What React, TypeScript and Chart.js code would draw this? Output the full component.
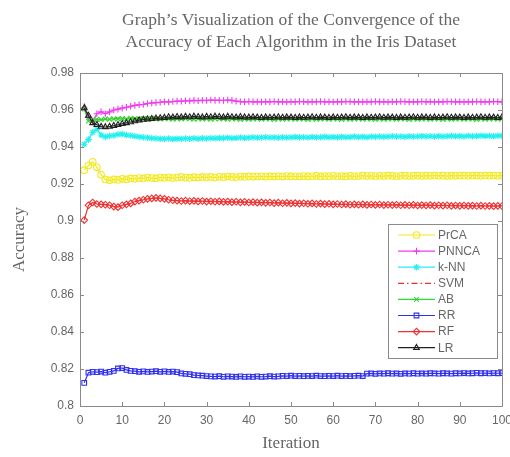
import React, { useEffect, useRef } from "react";
import { Chart, registerables } from "chart.js";
import { drawPoint } from "chart.js/helpers";

Chart.register(...registerables);

const titleLines = [
  "Graph\u2019s Visualization of the Convergence of the",
  "Accuracy of Each Algorithm in the Iris Dataset",
];
const xLabel = "Iteration";
const yLabel = "Accuracy";
const xTicks = [0, 10, 20, 30, 40, 50, 60, 70, 80, 90, 100];
const yTicks = [0.8, 0.82, 0.84, 0.86, 0.88, 0.9, 0.92, 0.94, 0.96, 0.98];
const iterations = Array.from({ length: 100 }, (_, i) => i + 1);

const seriesNames = ["PrCA", "PNNCA", "k-NN", "SVM", "AB", "RR", "RF", "LR"];

const prca = [
  0.9275, 0.93, 0.932, 0.929, 0.925, 0.9225, 0.922, 0.9225, 0.9222, 0.9228,
  0.9225, 0.923, 0.9228, 0.9232, 0.923, 0.9235, 0.9232, 0.923, 0.9235, 0.9233,
  0.9236, 0.9232, 0.9235, 0.9238, 0.9235, 0.9233, 0.9237, 0.9235, 0.9238, 0.9236,
  0.9238, 0.9235, 0.9239, 0.9237, 0.924, 0.9238, 0.9236, 0.924, 0.9238, 0.9241,
  0.9239, 0.924, 0.9242, 0.9239, 0.9241, 0.924, 0.9242, 0.924, 0.9243, 0.9241,
  0.9242, 0.924, 0.9243, 0.9241, 0.9242, 0.9244, 0.9241, 0.9243, 0.9242, 0.9244,
  0.9242, 0.9243, 0.9241, 0.9244, 0.9242, 0.9243, 0.9245, 0.9243, 0.9244, 0.9242,
  0.9244, 0.9243, 0.9245, 0.9244, 0.9242, 0.9244, 0.9245, 0.9243, 0.9244, 0.9245,
  0.9243, 0.9245, 0.9244, 0.9246, 0.9244, 0.9245, 0.9243, 0.9245, 0.9244, 0.9246,
  0.9245, 0.9244, 0.9246, 0.9245, 0.9244, 0.9246, 0.9245, 0.9246, 0.9244, 0.9245,
];

const pnnca = [
  0.961, 0.956, 0.954, 0.958, 0.959, 0.958, 0.959, 0.96, 0.9605, 0.961,
  0.9615, 0.962, 0.9625, 0.9628, 0.963, 0.9635, 0.9638, 0.964, 0.9642, 0.9645,
  0.9643, 0.9646, 0.9648, 0.9647, 0.965, 0.9649, 0.9652, 0.965, 0.9653, 0.9651,
  0.9654, 0.9652, 0.9653, 0.9651, 0.9654, 0.9652, 0.9648, 0.9645, 0.9644, 0.9646,
  0.9644, 0.9645, 0.9643, 0.9645, 0.9644, 0.9646, 0.9644, 0.9645, 0.9643, 0.9645,
  0.9644, 0.9646, 0.9645, 0.9643, 0.9645, 0.9644, 0.9646, 0.9644, 0.9645, 0.9643,
  0.9645, 0.9644, 0.9646, 0.9645, 0.9644, 0.9645, 0.9643, 0.9645, 0.9644, 0.9646,
  0.9644, 0.9645, 0.9643, 0.9645, 0.9644, 0.9646, 0.9645, 0.9644, 0.9645, 0.9644,
  0.9646, 0.9644, 0.9645, 0.9643, 0.9645, 0.9644, 0.9646, 0.9645, 0.9644, 0.9645,
  0.9643, 0.9645, 0.9644, 0.9646, 0.9644, 0.9645, 0.9644, 0.9646, 0.9645, 0.9644,
];

const knn = [
  0.9415, 0.944, 0.948, 0.9495, 0.9465, 0.9455, 0.946, 0.9462, 0.9468, 0.947,
  0.9465, 0.9462, 0.9458, 0.9455, 0.9452, 0.945, 0.9448, 0.9446, 0.9445, 0.9444,
  0.9446, 0.9443, 0.9445, 0.9444, 0.9446, 0.9445, 0.9447, 0.9445, 0.9448, 0.9446,
  0.9448, 0.9447, 0.9449, 0.9448, 0.945, 0.9448, 0.9449, 0.9451, 0.9449, 0.945,
  0.9452, 0.945, 0.9451, 0.9453, 0.9451, 0.9452, 0.945, 0.9453, 0.9451, 0.9452,
  0.9454, 0.9452, 0.9453, 0.9451, 0.9454, 0.9452, 0.9453, 0.9455, 0.9453, 0.9454,
  0.9452, 0.9455, 0.9453, 0.9454, 0.9456, 0.9454, 0.9455, 0.9453, 0.9456, 0.9455,
  0.9457, 0.9455, 0.9456, 0.9458, 0.9456, 0.9457, 0.9455, 0.9458, 0.9456, 0.9457,
  0.9459, 0.9457, 0.9458, 0.9456, 0.9459, 0.9457, 0.9458, 0.946, 0.9458, 0.9459,
  0.9457, 0.946, 0.9458, 0.9459, 0.9461, 0.9459, 0.946, 0.9458, 0.9461, 0.946,
];

const svm = [
  0.9635, 0.958, 0.955, 0.954, 0.9545, 0.955, 0.9555, 0.9552, 0.9556, 0.9558,
  0.9555, 0.9558, 0.956, 0.9557, 0.9559, 0.956, 0.9558, 0.9561, 0.9559, 0.956,
  0.9558, 0.956, 0.9557, 0.9559, 0.9561, 0.9558, 0.956, 0.9557, 0.9559, 0.956,
  0.9558, 0.9556, 0.9559, 0.9557, 0.956, 0.9558, 0.9556, 0.9559, 0.9557, 0.9558,
  0.9556, 0.9558, 0.9557, 0.9559, 0.9556, 0.9558, 0.9557, 0.9556, 0.9558, 0.9557,
  0.9559, 0.9557, 0.9556, 0.9558, 0.9557, 0.9559, 0.9556, 0.9558, 0.9557, 0.9556,
  0.9558, 0.9557, 0.9559, 0.9556, 0.9558, 0.9557, 0.9556, 0.9558, 0.9557, 0.9559,
  0.9557, 0.9556, 0.9558, 0.9557, 0.9559, 0.9556, 0.9558, 0.9557, 0.9556, 0.9558,
  0.9557, 0.9559, 0.9556, 0.9558, 0.9557, 0.9556, 0.9558, 0.9557, 0.9559, 0.9556,
  0.9558, 0.9557, 0.9556, 0.9558, 0.9557, 0.9559, 0.9556, 0.9558, 0.9557, 0.9556,
];

const ab = [
  0.9605, 0.954, 0.9545, 0.955, 0.9548, 0.9552, 0.955, 0.9553, 0.9551, 0.9554,
  0.9552, 0.9555, 0.9553, 0.9551, 0.9554, 0.9552, 0.9555, 0.9553, 0.9551, 0.9554,
  0.9552, 0.955, 0.9553, 0.9551, 0.9554, 0.9552, 0.955, 0.9553, 0.9551, 0.9552,
  0.955, 0.9553, 0.9551, 0.9552, 0.955, 0.9553, 0.9551, 0.9549, 0.9552, 0.955,
  0.9551, 0.9553, 0.955, 0.9552, 0.9551, 0.9549, 0.9552, 0.955, 0.9551, 0.9553,
  0.955, 0.9552, 0.9551, 0.9549, 0.9552, 0.955, 0.9551, 0.9553, 0.955, 0.9552,
  0.9551, 0.9549, 0.9552, 0.955, 0.9551, 0.9553, 0.955, 0.9552, 0.9551, 0.9549,
  0.9552, 0.955, 0.9551, 0.9553, 0.955, 0.9552, 0.9551, 0.9549, 0.9552, 0.955,
  0.9551, 0.9553, 0.955, 0.9552, 0.9551, 0.9549, 0.9552, 0.955, 0.9551, 0.9553,
  0.955, 0.9552, 0.9551, 0.9549, 0.9552, 0.955, 0.9551, 0.9553, 0.955, 0.9552,
];

const rr = [
  0.8125, 0.818, 0.8185, 0.8183, 0.8186, 0.818, 0.8185, 0.819, 0.8203, 0.8205,
  0.8195, 0.819, 0.8188, 0.8185, 0.8187, 0.8184, 0.8186, 0.8188, 0.8185, 0.8187,
  0.8184, 0.8186, 0.8183, 0.8176, 0.8174, 0.8172, 0.8167, 0.8165, 0.8164, 0.8162,
  0.816, 0.8159, 0.8161, 0.8158, 0.816, 0.8159, 0.8157, 0.816, 0.8158, 0.8159,
  0.8157, 0.816, 0.8158, 0.8159, 0.8161, 0.8159, 0.816, 0.8163, 0.8162, 0.8164,
  0.8162, 0.8163, 0.8161, 0.8163, 0.8162, 0.8164, 0.8162, 0.8161, 0.8163, 0.8162,
  0.8164, 0.8162, 0.8163, 0.8161, 0.8163, 0.8164, 0.8162, 0.8175, 0.8176, 0.8174,
  0.8176, 0.8175, 0.8177, 0.8175, 0.8176, 0.8174, 0.8176, 0.8175, 0.8177, 0.8175,
  0.8176, 0.8175, 0.8177, 0.8176, 0.8175, 0.8177, 0.8176, 0.8175, 0.8177, 0.8176,
  0.8178, 0.8176, 0.8177, 0.8179, 0.8177, 0.8178, 0.8176, 0.8178, 0.8177, 0.8178,
];

const rf = [
  0.9005, 0.9085, 0.91, 0.9092, 0.909, 0.9088, 0.9085, 0.9078, 0.9075, 0.9085,
  0.909, 0.9095, 0.9105, 0.911, 0.9115, 0.912, 0.9122, 0.9125, 0.9122, 0.912,
  0.9115, 0.9112, 0.911, 0.9108, 0.911, 0.9107, 0.9109, 0.9106, 0.9108, 0.9105,
  0.9107, 0.9104, 0.9106, 0.9103, 0.9105, 0.9102, 0.9104, 0.9101, 0.9103, 0.91,
  0.9102, 0.9099, 0.9101, 0.9098, 0.91, 0.9097, 0.9099, 0.9096, 0.9098, 0.9095,
  0.9097, 0.9094, 0.9096, 0.9093, 0.9095, 0.9092, 0.9094, 0.9091, 0.9093, 0.909,
  0.9092, 0.9089, 0.9091, 0.9088, 0.909, 0.9088, 0.909, 0.9087, 0.9089, 0.9087,
  0.9089, 0.9086, 0.9088, 0.9086, 0.9088, 0.9085, 0.9087, 0.9085, 0.9087, 0.9084,
  0.9086, 0.9084, 0.9086, 0.9083, 0.9085, 0.9083, 0.9085, 0.9082, 0.9084, 0.9082,
  0.9084, 0.9082, 0.9083, 0.9081, 0.9083, 0.9081, 0.9082, 0.908, 0.9082, 0.9081,
];

const lr = [
  0.961, 0.957, 0.953, 0.952, 0.951, 0.9508, 0.951, 0.9515, 0.952, 0.9525,
  0.953, 0.9535, 0.954, 0.9545, 0.9548, 0.955, 0.9552, 0.9555, 0.9556, 0.9558,
  0.9562, 0.956, 0.9563, 0.9561, 0.9564, 0.9562, 0.9565, 0.9563, 0.9561, 0.9564,
  0.9562, 0.9565, 0.9563, 0.9561, 0.9564, 0.9562, 0.956, 0.9563, 0.9561, 0.956,
  0.9562, 0.956, 0.9558, 0.9561, 0.9559, 0.956, 0.9562, 0.9559, 0.9561, 0.956,
  0.9558, 0.9561, 0.9559, 0.956, 0.9562, 0.9559, 0.9561, 0.956, 0.9558, 0.9561,
  0.9559, 0.956, 0.9562, 0.9559, 0.9561, 0.956, 0.9558, 0.9561, 0.9559, 0.956,
  0.9562, 0.9559, 0.9561, 0.956, 0.9558, 0.9561, 0.9559, 0.956, 0.9562, 0.9559,
  0.9561, 0.956, 0.9558, 0.9561, 0.9559, 0.956, 0.9562, 0.9559, 0.9561, 0.956,
  0.9558, 0.9561, 0.9559, 0.956, 0.9562, 0.9559, 0.9561, 0.956, 0.9558, 0.9561,
];

const seriesValues = [prca, pnnca, knn, svm, ab, rr, rf, lr];
const seriesColors = ["#f2ea1e", "#f03cf0", "#22f0f0", "#f03030", "#30d830", "#3030f0", "#f03030", "#202020"];
const seriesMarkers: (string | false)[] = ["circle", "cross", "star", false, "crossRot", "rect", "rectRot", "triangle"];

const AXIS_COLOR = "#8a8a8a";
const TEXT_COLOR = "#666666";
const DASH = [6, 3, 1.5, 3];

export default function App() {
  const ref = useRef<HTMLCanvasElement | null>(null);

  useEffect(() => {
    document.body.style.margin = "0";
    const canvas = ref.current;
    if (!canvas) return;

    const datasets = seriesNames.map((name, i) => ({
      label: name,
      data: iterations.map((x, j) => ({ x, y: seriesValues[i][j] })),
      borderColor: seriesColors[i],
      backgroundColor: "rgba(0,0,0,0)",
      borderWidth: 1.2,
      borderDash: seriesMarkers[i] === false ? DASH : [],
      pointStyle: seriesMarkers[i] === false ? "circle" : (seriesMarkers[i] as any),
      pointRadius: seriesMarkers[i] === false ? 0 : 3.3,
      pointBorderWidth: 1.1,
      pointBorderColor: seriesColors[i],
      pointBackgroundColor: "rgba(0,0,0,0)",
      tension: 0,
      order: seriesNames.length - i,
    }));

    const decor = {
      id: "decor",
      afterDraw(chart: any) {
        const ctx = chart.ctx as CanvasRenderingContext2D;
        const a = chart.chartArea;
        const xs = chart.scales.x;
        const ys = chart.scales.y;
        ctx.save();
        // box
        ctx.strokeStyle = AXIS_COLOR;
        ctx.lineWidth = 1;
        ctx.beginPath();
        ctx.rect(Math.round(a.left) + 0.5, Math.round(a.top) + 0.5, Math.round(a.right - a.left), Math.round(a.bottom - a.top));
        ctx.stroke();
        // inward ticks
        const tl = 4;
        ctx.beginPath();
        xTicks.forEach((t) => {
          const px = Math.round(xs.getPixelForValue(t)) + 0.5;
          ctx.moveTo(px, a.bottom);
          ctx.lineTo(px, a.bottom - tl);
          ctx.moveTo(px, a.top);
          ctx.lineTo(px, a.top + tl);
        });
        yTicks.forEach((t) => {
          const py = Math.round(ys.getPixelForValue(t)) + 0.5;
          ctx.moveTo(a.left, py);
          ctx.lineTo(a.left + tl, py);
          ctx.moveTo(a.right, py);
          ctx.lineTo(a.right - tl, py);
        });
        ctx.stroke();

        // title
        const cx = (a.left + a.right) / 2;
        ctx.fillStyle = TEXT_COLOR;
        ctx.textAlign = "center";
        ctx.textBaseline = "middle";
        ctx.font = "17.5px 'Liberation Serif', serif";
        ctx.fillText(titleLines[0], cx, 20);
        ctx.fillText(titleLines[1], cx, 42);

        // axis titles
        ctx.font = "17px 'Liberation Serif', serif";
        ctx.fillText(xLabel, cx, 444);
        ctx.save();
        ctx.translate(20, (a.top + a.bottom) / 2);
        ctx.rotate(-Math.PI / 2);
        ctx.fillText(yLabel, 0, 0);
        ctx.restore();

        // legend
        const lx = 388, ly = 224, lw = 109, lh = 134;
        ctx.fillStyle = "#ffffff";
        ctx.fillRect(lx, ly, lw, lh);
        ctx.strokeStyle = AXIS_COLOR;
        ctx.strokeRect(lx + 0.5, ly + 0.5, lw, lh);
        ctx.font = "12px 'Liberation Sans', Arial, sans-serif";
        ctx.textAlign = "left";
        seriesNames.forEach((name, i) => {
          const y = 235 + i * 16.1;
          ctx.strokeStyle = seriesColors[i];
          ctx.lineWidth = 1.2;
          ctx.setLineDash(seriesMarkers[i] === false ? DASH : []);
          ctx.beginPath();
          ctx.moveTo(398, y);
          ctx.lineTo(435, y);
          ctx.stroke();
          ctx.setLineDash([]);
          if (seriesMarkers[i] !== false) {
            ctx.fillStyle = "rgba(0,0,0,0)";
            ctx.lineWidth = 1.1;
            drawPoint(ctx, { pointStyle: seriesMarkers[i] as any, radius: 3.3, borderWidth: 1.1, rotation: 0 } as any, 416.5, y);
          }
          ctx.fillStyle = TEXT_COLOR;
          ctx.fillText(name, 438, y + 0.5);
        });
        ctx.restore();
      },
    };

    const chart = new Chart(canvas, {
      type: "line",
      data: { datasets: datasets as any },
      options: {
        animation: false,
        responsive: false,
        maintainAspectRatio: false,
        layout: { padding: { left: 0, top: 73, right: 8, bottom: 0 } },
        plugins: { legend: { display: false }, title: { display: false }, tooltip: { enabled: false } },
        scales: {
          x: {
            type: "linear",
            min: 0,
            max: 100,
            afterBuildTicks: (s: any) => {
              s.ticks = xTicks.map((v) => ({ value: v }));
            },
            afterFit: (s: any) => {
              s.height = 51;
              s.paddingLeft = 0;
              s.paddingRight = 0;
            },
            grid: { display: false, drawTicks: false },
            border: { display: false },
            ticks: {
              color: TEXT_COLOR,
              font: { family: "'Liberation Sans', Arial, sans-serif", size: 12 },
              padding: 7,
              maxRotation: 0,
              autoSkip: false,
              callback: (v: any) => String(v),
            },
          },
          y: {
            type: "linear",
            min: 0.8,
            max: 0.98,
            afterBuildTicks: (s: any) => {
              s.ticks = yTicks.map((v) => ({ value: v }));
            },
            afterFit: (s: any) => {
              s.width = 80;
              s.paddingTop = 0;
              s.paddingBottom = 0;
            },
            grid: { display: false, drawTicks: false },
            border: { display: false },
            ticks: {
              color: TEXT_COLOR,
              font: { family: "'Liberation Sans', Arial, sans-serif", size: 12 },
              padding: 6,
              autoSkip: false,
              callback: (v: any) => String(Number(Number(v).toFixed(2))),
            },
          },
        },
      },
      plugins: [decor],
    });

    return () => chart.destroy();
  }, []);

  return (
    <div style={{ width: 510, height: 457 }}>
      <canvas ref={ref} width={510} height={457} style={{ display: "block", width: 510, height: 457 }} />
    </div>
  );
}
